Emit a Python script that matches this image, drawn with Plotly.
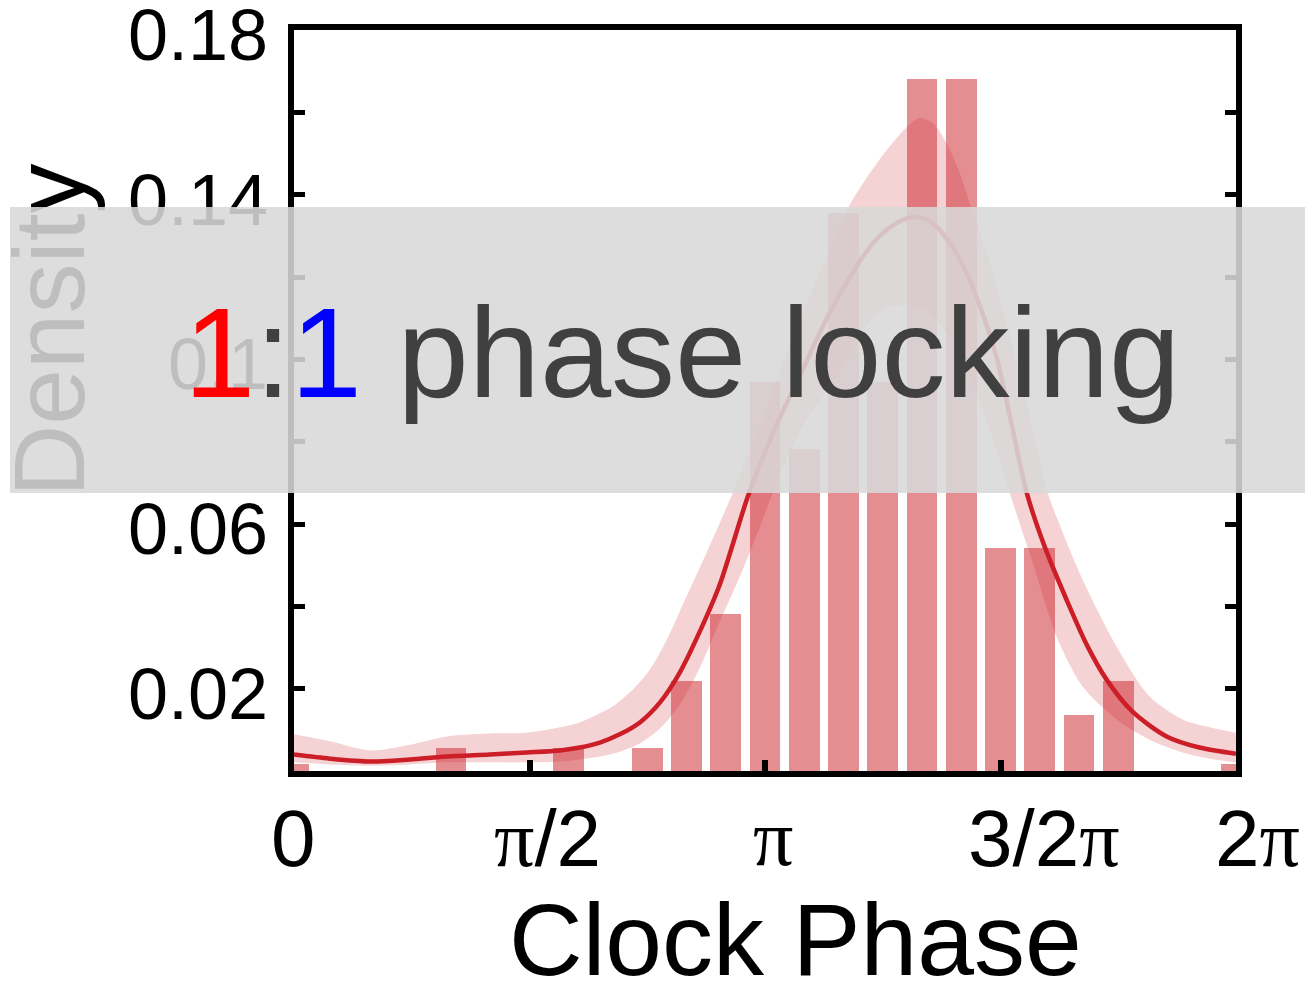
import math
import plotly.graph_objects as go

PI = math.pi

# ---- histogram (bin centres k*pi/12) ----
bin_index = list(range(25))
bar_density = [0.0017, 0, 0, 0, 0.0056, 0, 0, 0.0056, 0, 0.0056,
               0.0219, 0.0382, 0.0944, 0.0783, 0.1355, 0.0944, 0.168, 0.168,
               0.0542, 0.0542, 0.0136, 0.0219, 0, 0, 0.0017]

# ---- mean density curve ----
mean_x = [0.000, 0.240, 0.507, 0.773, 1.020, 1.307, 1.553, 1.773, 1.907, 2.040,
          2.173, 2.307, 2.440, 2.573, 2.707, 2.840, 3.027, 3.140, 3.240,
          3.353, 3.460, 3.573, 3.687, 3.793, 3.907, 4.020, 4.127, 4.240, 4.353,
          4.460, 4.573, 4.687, 4.787, 4.887, 5.007, 5.153, 5.287, 5.420, 5.593,
          5.820, 6.040, 6.283]
mean_y = [0.0040, 0.0030, 0.0023, 0.0028, 0.0035, 0.0040, 0.0045, 0.0050, 0.0057, 0.0069,
          0.0089, 0.0118, 0.0166, 0.0239, 0.0339, 0.0453, 0.0667, 0.0773, 0.0858,
          0.0943, 0.1028, 0.1113, 0.1186, 0.1249, 0.1300, 0.1331, 0.1346, 0.1336, 0.1294,
          0.1229, 0.1132, 0.1004, 0.0841, 0.0676, 0.0545, 0.0416, 0.0307, 0.0222, 0.0144,
          0.0084, 0.0057, 0.0042]

# ---- confidence band ----
upper_x = [0.000, 0.240, 0.507, 0.773, 1.020, 1.307, 1.553, 1.773, 1.907, 2.040,
           2.127, 2.260, 2.373, 2.487, 2.593, 2.707, 2.820, 2.927, 3.107, 3.307,
           3.507, 3.707, 3.820, 3.953, 4.087, 4.173, 4.260, 4.353, 4.440, 4.507,
           4.640, 4.773, 4.907, 5.027, 5.107, 5.260, 5.487, 5.707, 5.927, 6.107, 6.283]
upper_y = [0.0089, 0.0072, 0.0050, 0.0064, 0.0084, 0.0091, 0.0093, 0.0106, 0.0118, 0.0140,
           0.0157, 0.0198, 0.0246, 0.0319, 0.0404, 0.0494, 0.0586, 0.0676, 0.0841, 0.1035,
           0.1212, 0.1375, 0.1441, 0.1508, 0.1564, 0.1586, 0.1574, 0.1525, 0.1453, 0.1380,
           0.1237, 0.1060, 0.0865, 0.0676, 0.0598, 0.0465, 0.0302, 0.0181, 0.0125, 0.0106, 0.0093]
lower_x = [0.000, 0.240, 0.507, 0.773, 1.020, 1.307, 1.553, 1.773, 1.907, 2.040,
           2.173, 2.307, 2.440, 2.573, 2.707, 2.840, 2.973, 3.107, 3.240, 3.373,
           3.573, 3.707, 3.860, 3.973, 4.060, 4.173, 4.287, 4.460, 4.640, 4.773,
           4.927, 5.087, 5.260, 5.487, 5.707, 5.927, 6.107, 6.283]
lower_y = [0.0021, 0.0016, 0.0013, 0.0016, 0.0021, 0.0021, 0.0021, 0.0023, 0.0028, 0.0035,
           0.0047, 0.0067, 0.0103, 0.0161, 0.0251, 0.0363, 0.0472, 0.0593, 0.0717, 0.0824,
           0.0933, 0.1011, 0.1101, 0.1127, 0.1132, 0.1125, 0.1096, 0.0999, 0.0829, 0.0676,
           0.0506, 0.0326, 0.0205, 0.0125, 0.0076, 0.0045, 0.0030, 0.0021]

# ---- axis ticks ----
x_tick_vals = [PI / 2, PI, 3 * PI / 2]
x_tick_labels = ["0", "π/2", "π", "3/2π", "2π"]
y_tick_vals = [0.02, 0.04, 0.06, 0.08, 0.10, 0.12, 0.14, 0.16, 0.18]
y_label_vals = [0.02, 0.06, 0.10, 0.14, 0.18]
y_label_text = ["0.02", "0.06", "0.1", "0.14", "0.18"]

RED = "rgb(203,30,38)"
FONT = "Liberation Sans, Arial, Helvetica, sans-serif"

bar_x = [k * PI / 12 for k in bin_index]

fig = go.Figure()
fig.add_trace(go.Bar(x=bar_x, y=bar_density, width=0.205,
                     marker=dict(color="rgba(203,30,38,0.5)", line=dict(width=0)),
                     showlegend=False))
fig.add_trace(go.Scatter(x=upper_x, y=upper_y, mode="lines",
                         line=dict(width=0, shape="spline", smoothing=0.8),
                         showlegend=False, hoverinfo="skip"))
fig.add_trace(go.Scatter(x=lower_x, y=lower_y, mode="lines", fill="tonexty",
                         fillcolor="rgba(203,30,38,0.2)",
                         line=dict(width=0, shape="spline", smoothing=0.8),
                         showlegend=False, hoverinfo="skip"))
fig.add_trace(go.Scatter(x=mean_x, y=mean_y, mode="lines",
                         line=dict(color=RED, width=4.5, shape="spline", smoothing=0.8),
                         showlegend=False))

# page body has an 8px margin; screen-space plot frame is 294..1236 x 30..771
OFF = 8
SX0, SY0, PW, PH = 294, 30, 942, 741
W, H = 1313, 983
L = SX0 - OFF
T = SY0 - OFF
R = W - L - PW
B = H - T - PH


def px(xp):
    return (xp - SX0) / PW


def py(yp):
    return (SY0 + PH - yp) / PH


SERIF_PI = "<span style='font-family:Liberation Serif, Times New Roman, serif'>π</span>"

annotations = []
# y tick labels (drawn before the banner so the banner covers them)
for val, lab in zip(y_label_vals, y_label_text):
    annotations.append(dict(x=px(270), y=val, xref="paper", yref="y", yshift=-5,
                            text=lab, showarrow=False, xanchor="right", yanchor="middle",
                            font=dict(family=FONT, size=72, color="black")))
# x tick labels (placed where the reference draws them)
x_label_px = [293, 547, 773, 1044, 1257]
for lab, xp in zip(x_tick_labels, x_label_px):
    annotations.append(dict(x=px(xp), y=py(838), xref="paper", yref="paper",
                            text=lab.replace("π", SERIF_PI), showarrow=False,
                            xanchor="center", yanchor="middle",
                            font=dict(family=FONT, size=80, color="black")))
# axis titles
annotations.append(dict(x=px(795), y=py(940), xref="paper", yref="paper",
                        text="Clock Phase", showarrow=False, xanchor="center", yanchor="middle",
                        font=dict(family=FONT, size=102, color="black")))
annotations.append(dict(x=px(49), y=py(331), xref="paper", yref="paper",
                        text="Density", textangle=-90, showarrow=False,
                        xanchor="center", yanchor="middle",
                        font=dict(family=FONT, size=100, color="black")))
# translucent grey banner
annotations.append(dict(x=px(661.5), y=py(350), xref="paper", yref="paper",
                        text="&nbsp;", showarrow=False, xanchor="center", yanchor="middle",
                        width=1303, height=286, borderpad=0, borderwidth=0,
                        bgcolor="rgba(216,216,216,0.88)",
                        font=dict(family=FONT, size=10, color="rgba(0,0,0,0)")))
# banner text
annotations.append(dict(x=px(682), y=py(352), xref="paper", yref="paper",
                        text="<span style='color:#ff0000'>1</span>:<span style='color:#0000ff'>1</span> phase locking",
                        showarrow=False, xanchor="center", yanchor="middle",
                        font=dict(family=FONT, size=128, color="#404040")))

fig.update_layout(
    width=W, height=H,
    margin=dict(l=L, r=R, t=T, b=B, pad=0),
    paper_bgcolor="white", plot_bgcolor="white",
    bargap=0, showlegend=False,
    annotations=annotations,
    xaxis=dict(range=[0, 2 * PI], showline=True, linecolor="black", linewidth=6,
               mirror=True, ticks="inside", tickvals=x_tick_vals, ticklen=11,
               tickwidth=6, tickcolor="black", showticklabels=False,
               showgrid=False, zeroline=False),
    yaxis=dict(range=[0, 0.18], showline=True, linecolor="black", linewidth=6,
               mirror="ticks", ticks="inside", tickvals=y_tick_vals,
               ticklen=11, tickwidth=5, tickcolor="black", showgrid=False, zeroline=False,
               showticklabels=False),
)

fig.write_html("out.html")
